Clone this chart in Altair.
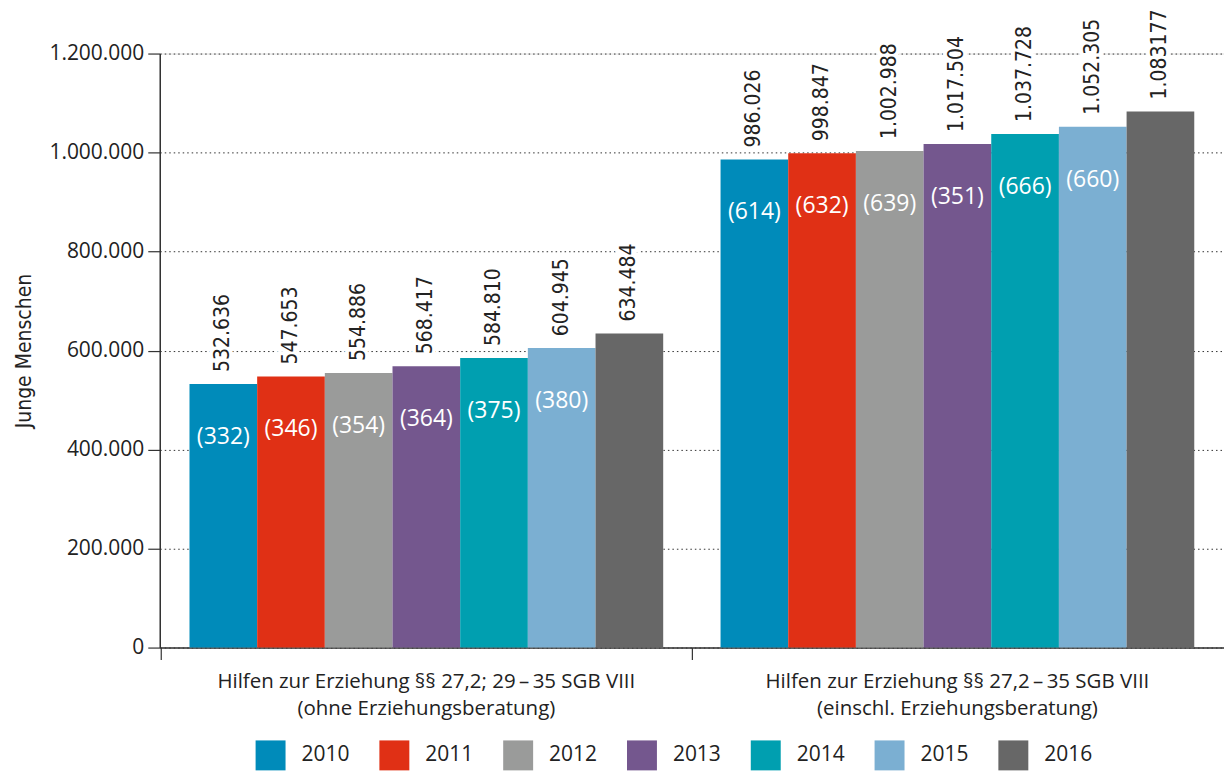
import altair as alt
import pandas as pd

groups = [
    "Hilfen zur Erziehung §§ 27,2; 29\u2009\u2013\u200935 SGB VIII|(ohne Erziehungsberatung)",
    "Hilfen zur Erziehung §§ 27,2\u2009\u2013\u200935 SGB VIII|(einschl. Erziehungsberatung)",
]
years = ["2010", "2011", "2012", "2013", "2014", "2015", "2016"]
colors = ["#008BBA", "#E03015", "#9A9B9A", "#74578E", "#009FB0", "#7BAFD2", "#676767"]

values_ohne = [532636, 547653, 554886, 568417, 584810, 604945, 634484]
values_einschl = [986026, 998847, 1002988, 1017504, 1037728, 1052305, 1083177]
labels_ohne = ["532.636", "547.653", "554.886", "568.417", "584.810", "604.945", "634.484"]
labels_einschl = ["986.026", "998.847", "1.002.988", "1.017.504", "1.037.728", "1.052.305", "1.083177"]
inner_ohne = ["(332)", "(346)", "(354)", "(364)", "(375)", "(380)", ""]
inner_einschl = ["(614)", "(632)", "(639)", "(351)", "(666)", "(660)", ""]
y_ticks = [0, 200000, 400000, 600000, 800000, 1000000, 1200000]

rows = []
for g, vals, labs, inn in [(groups[0], values_ohne, labels_ohne, inner_ohne),
                           (groups[1], values_einschl, labels_einschl, inner_einschl)]:
    for yr, v, l, i in zip(years, vals, labs, inn):
        rows.append({"group": g, "year": yr, "value": v, "label": l, "inner": i})
df = pd.DataFrame(rows)

FONT = "Open Sans"
NARROW = "DejaVu Sans Condensed, sans-serif"

x_enc = alt.X(
    "group:N", sort=groups, title=None,
    scale=alt.Scale(paddingInner=0.108, paddingOuter=0.056),
    axis=alt.Axis(
        labelAngle=0, labelExpr="split(datum.label, '|')", labelFontSize=20.5,
        labelLineHeight=27, labelPadding=12, labelColor="#222", labelFont=FONT,
        labelLimit=800,
        tickSize=12, tickColor="#333", tickWidth=1.2, bandPosition=-0.06,
        domainColor="#333", domainWidth=1.5, grid=False,
    ),
)
xo_enc = alt.XOffset("year:N", sort=years, scale=alt.Scale(paddingInner=0, paddingOuter=0))
y_enc = alt.Y(
    "value:Q", title="Junge Menschen",
    scale=alt.Scale(domain=[0, 1200000], nice=False),
    axis=alt.Axis(
        values=y_ticks,
        labelExpr="replace(replace(format(datum.value, ','), ',', '.'), ',', '.')",
        labelFontSize=21, labelFont=FONT, labelColor="#222", labelPadding=4,
        tickSize=12, tickColor="#333", tickWidth=1.2,
        domainColor="#333", domainWidth=1.5,
        grid=True, gridDash=[1.5, 3], gridColor="#333", gridWidth=1,
        titleFont=NARROW, titleFontSize=21, titleFontWeight="normal",
        titleColor="#222", titlePadding=14,
    ),
)

base = alt.Chart(df).encode(x=x_enc, xOffset=xo_enc, y=y_enc)

bars = base.mark_bar().encode(
    color=alt.Color(
        "year:N", sort=years,
        scale=alt.Scale(domain=years, range=colors),
        legend=alt.Legend(
            title=None, orient="none", legendX=96, legendY=688,
            direction="horizontal", columns=7, symbolType="square",
            symbolSize=900, symbolStrokeWidth=0, symbolOpacity=1,
            labelFontSize=21, labelFont=FONT, labelColor="#222",
            labelOffset=16, columnPadding=29,
        ),
    )
)

halo = base.mark_text(
    angle=270, align="left", baseline="middle", dx=12, fontSize=21,
    font=NARROW, stroke="white", strokeWidth=8, color="white",
).encode(text="label:N")

top_labels = base.mark_text(
    angle=270, align="left", baseline="middle", dx=12, fontSize=21,
    font=NARROW, color="#222",
).encode(text="label:N")

inner_labels = base.mark_text(
    baseline="middle", dy=53, fontSize=23, font=FONT, color="white",
).encode(text="inner:N")

chart = alt.layer(bars, halo, top_labels, inner_labels).properties(
    width=1066, height=595,
    padding={"left": 5, "top": 0, "right": 0, "bottom": 0},
).configure_view(stroke=None).configure(background="white")

chart.save("out.html", embed_options={"renderer": "svg", "actions": False})
